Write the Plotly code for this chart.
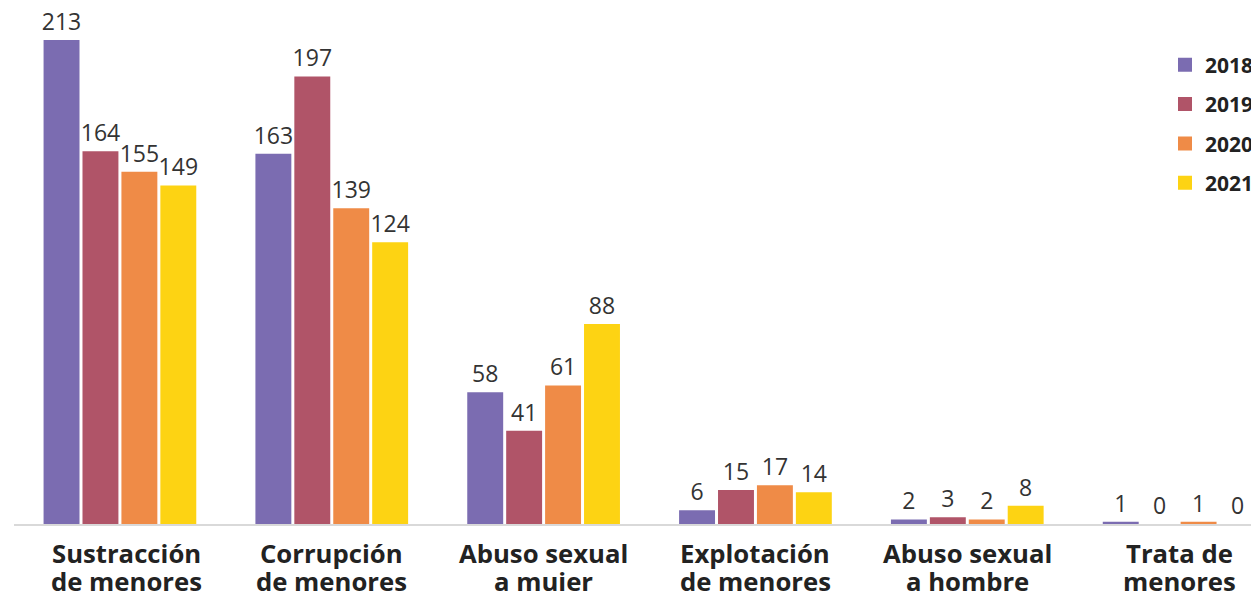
import plotly.graph_objects as go

categories = ["Sustracción de menores", "Corrupción de menores", "Abuso sexual a mujer",
              "Explotación de menores", "Abuso sexual a hombre", "Trata de menores"]
label_line1 = ["Sustracción", "Corrupción", "Abuso sexual", "Explotación", "Abuso sexual", "Trata de"]
label_line2 = ["de menores", "de menores", "a mujer", "de menores", "a hombre", "menores"]
years = ["2018", "2019", "2020", "2021"]
v2018 = [213, 163, 58, 6, 2, 1]
v2019 = [164, 197, 41, 15, 3, 0]
v2020 = [155, 139, 61, 17, 2, 1]
v2021 = [149, 124, 88, 14, 8, 0]
series = [v2018, v2019, v2020, v2021]
colors = ["#7b6cb1", "#b05468", "#ef8b47", "#fdd313"]

fig = go.Figure()
for i, (yr, vals) in enumerate(zip(years, series)):
    fig.add_trace(go.Bar(
        x=categories, y=vals, name=yr,
        marker=dict(color=colors[i], line=dict(width=0)),
        text=[str(v) for v in vals], textposition="outside",
        textfont=dict(family="Open Sans", size=23, color="#333333"),
        constraintext="none", cliponaxis=False,
        showlegend=False,
    ))
# legend entries (square swatches)
for i, yr in enumerate(years):
    fig.add_trace(go.Scatter(
        x=[None], y=[None], mode="markers", name=yr,
        marker=dict(symbol="square", size=14, color=colors[i]),
        legendgroup=yr, showlegend=True,
    ))

annotations = []
for j, (cat, l1, l2) in enumerate(zip(categories, label_line1, label_line2)):
    for txt, ys in ((l1, -29), (l2, -57)):
        annotations.append(dict(
            x=cat, xref="x", y=0, yref="paper", yanchor="middle", xanchor="center",
            yshift=ys, xshift=(7 if j == 0 else 0), text=txt, showarrow=False,
            font=dict(family="Open Sans", size=25.7, color="#222222", weight="bold"),
        ))

fig.update_layout(
    width=1251, height=583,
    margin=dict(l=6, r=0, t=0, b=67),
    paper_bgcolor="white", plot_bgcolor="white",
    barmode="group", bargap=0.265, bargroupgap=0.077,
    font=dict(family="Open Sans", color="#333333"),
    showlegend=True,
    legend=dict(x=0.9262, y=0.929, xanchor="left", yanchor="top",
                font=dict(family="Open Sans", size=21, color="#222222", weight="bold"),
                traceorder="grouped", tracegroupgap=9,
                bgcolor="rgba(0,0,0,0)"),
    xaxis=dict(range=[-0.5, 5.3676], showline=True, linecolor="#d9d9d9", linewidth=2,
               ticks="", showgrid=False, zeroline=False, showticklabels=False),
    yaxis=dict(range=[0, 227.1], visible=False, showgrid=False, zeroline=False),
    annotations=annotations,
)

fig.write_html("out.html")
